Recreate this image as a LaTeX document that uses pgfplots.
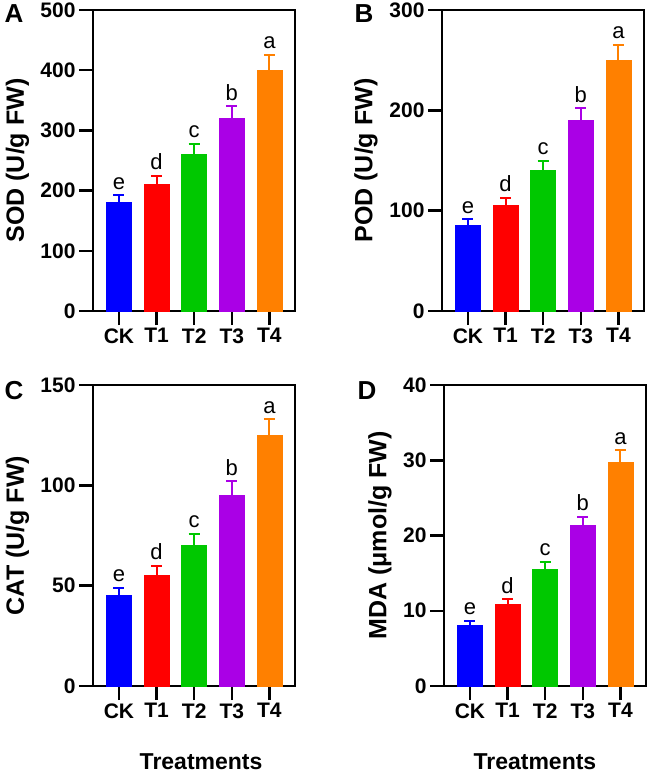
\documentclass[border=0pt]{standalone}
\usepackage{fontspec}
\setmainfont{Liberation Sans}
\usepackage{pgfplots}
\pgfplotsset{compat=1.18}

\definecolor{cCK}{RGB}{0,0,255}
\definecolor{cTa}{RGB}{255,0,0}
\definecolor{cTb}{RGB}{0,200,0}
\definecolor{cTc}{RGB}{170,0,230}
\definecolor{cTd}{RGB}{255,128,0}

\pgfplotsset{
  panel/.style={
    scale only axis, width=202pt, height=301pt,
    axis line style={line width=2.5pt},
    xmin=-0.69, xmax=4.68, ymin=0,
    xtick={0,...,4}, xticklabels={CK,T1,T2,T3,T4},
    xtick pos=bottom, ytick pos=left,
    tick align=outside,
    major tick length=14pt,
    every tick/.style={black, line width=2.5pt},
    tick label style={font=\fontsize{21}{24}\selectfont\bfseries},
    /pgf/number format/assume math mode=true,
    ylabel style={font=\fontsize{25}{28}\selectfont\bfseries, anchor=center},
    xlabel style={font=\fontsize{23}{26}\selectfont\bfseries, anchor=center, inner sep=0pt},
    clip=false,
    ybar, bar width=25pt, bar shift=0pt,
  },
  trt/.style={fill=#1, draw=#1, line width=0.5pt,
    error bars/.cd, y dir=plus, y explicit,
    error bar style={#1, line width=2pt},
    error mark options={#1, line width=2pt, mark size=5.5pt, rotate=90}},
}
\tikzset{
  sig/.style={anchor=base, inner sep=0pt, yshift=6pt, font=\fontsize{22}{24}\selectfont},
  plab/.style={font=\fontsize{26}{28}\selectfont\bfseries, anchor=center, inner sep=0pt},
}

\begin{document}
\begin{tikzpicture}
\path[use as bounding box] (0pt,0pt) rectangle (649pt,-774pt);

% SOD
\begin{axis}[panel, at={(93pt,-311pt)}, anchor=south west,
  ymax=500, ytick={0,100,...,500},
  ylabel={SOD (U/g FW)}, ylabel style={at={(axis description cs:-0.374,0.5)}}]
  \addplot[trt=cCK] coordinates {(0,180) +- (0,12)};
  \addplot[trt=cTa] coordinates {(1,210) +- (0,15)};
  \addplot[trt=cTb] coordinates {(2,260) +- (0,18)};
  \addplot[trt=cTc] coordinates {(3,320) +- (0,20)};
  \addplot[trt=cTd] coordinates {(4,400) +- (0,26)};
  \node[sig] at (axis cs:0,192) {e};
  \node[sig] at (axis cs:1,225) {d};
  \node[sig] at (axis cs:2,278) {c};
  \node[sig] at (axis cs:3,340) {b};
  \node[sig] at (axis cs:4,426) {a};
\end{axis}

% POD
\begin{axis}[panel, at={(442pt,-311pt)}, anchor=south west,
  ymax=300, ytick={0,100,...,300},
  ylabel={POD (U/g FW)}, ylabel style={at={(axis description cs:-0.376,0.5)}}]
  \addplot[trt=cCK] coordinates {(0,85) +- (0,6.5)};
  \addplot[trt=cTa] coordinates {(1,105) +- (0,8)};
  \addplot[trt=cTb] coordinates {(2,140) +- (0,10)};
  \addplot[trt=cTc] coordinates {(3,190) +- (0,12)};
  \addplot[trt=cTd] coordinates {(4,250) +- (0,15.5)};
  \node[sig] at (axis cs:0,91.5) {e};
  \node[sig] at (axis cs:1,113) {d};
  \node[sig] at (axis cs:2,150) {c};
  \node[sig] at (axis cs:3,202) {b};
  \node[sig] at (axis cs:4,265.5) {a};
\end{axis}

% CAT
\begin{axis}[panel, at={(93pt,-686pt)}, anchor=south west,
  ymax=150, ytick={0,50,...,150},
  ylabel={CAT (U/g FW)}, ylabel style={at={(axis description cs:-0.374,0.5)}},
  xlabel={Treatments}, xlabel style={at={(axis description cs:0.535,-0.25)}}]
  \addplot[trt=cCK] coordinates {(0,45) +- (0,4)};
  \addplot[trt=cTa] coordinates {(1,55) +- (0,5)};
  \addplot[trt=cTb] coordinates {(2,70) +- (0,6)};
  \addplot[trt=cTc] coordinates {(3,95) +- (0,7)};
  \addplot[trt=cTd] coordinates {(4,125) +- (0,8)};
  \node[sig] at (axis cs:0,49) {e};
  \node[sig] at (axis cs:1,60) {d};
  \node[sig] at (axis cs:2,76) {c};
  \node[sig] at (axis cs:3,102) {b};
  \node[sig] at (axis cs:4,133) {a};
\end{axis}

% MDA
\begin{axis}[panel, at={(444pt,-686pt)}, anchor=south west,
  ymax=40, ytick={0,10,...,40},
  ylabel={MDA (μmol/g FW)}, ylabel style={at={(axis description cs:-0.317,0.5)}},
  xlabel={Treatments}, xlabel style={at={(axis description cs:0.45,-0.25)}}]
  \addplot[trt=cCK] coordinates {(0,8.1) +- (0,0.6)};
  \addplot[trt=cTa] coordinates {(1,10.8) +- (0,0.7)};
  \addplot[trt=cTb] coordinates {(2,15.5) +- (0,1.0)};
  \addplot[trt=cTc] coordinates {(3,21.3) +- (0,1.2)};
  \addplot[trt=cTd] coordinates {(4,29.8) +- (0,1.5)};
  \node[sig] at (axis cs:0,8.7) {e};
  \node[sig] at (axis cs:1,11.5) {d};
  \node[sig] at (axis cs:2,16.5) {c};
  \node[sig] at (axis cs:3,22.5) {b};
  \node[sig] at (axis cs:4,31.3) {a};
\end{axis}

\node[plab] at (14pt,-14pt) {A};
\node[plab] at (364pt,-14pt) {B};
\node[plab] at (14pt,-391pt) {C};
\node[plab] at (367pt,-391pt) {D};
\end{tikzpicture}
\end{document}
